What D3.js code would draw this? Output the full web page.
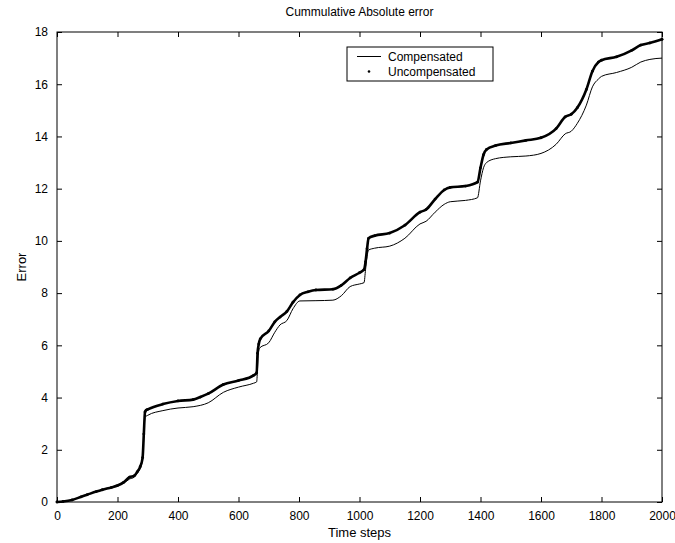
<!DOCTYPE html>
<html><head><meta charset="utf-8">
<script src="https://cdn.jsdelivr.net/npm/d3@7"></script>
<style>body{margin:0;background:#fff}text{font-family:"Liberation Sans",Arial,Helvetica,sans-serif}</style>
</head><body><svg id="c" width="675" height="543"></svg>
<script>
const title = "Cummulative Absolute error";
const xLabel = "Time steps";
const yLabel = "Error";
const seriesNames = ["Compensated", "Uncompensated"];
const xTicks = [0,200,400,600,800,1000,1200,1400,1600,1800,2000];
const yTicks = [0,2,4,6,8,10,12,14,16,18];

const uncompT = [0,20,50,80,100,130,150,180,200,220,240,255,265,275,283,287,291,295,300,350,400,450,474,500,550,600,650,660,663,667,672,700,720,737,760,780,803,830,856,912,940,969,1000,1015,1020,1025,1030,1050,1100,1150,1200,1220,1250,1280,1300,1350,1390,1400,1410,1420,1450,1500,1550,1600,1650,1680,1700,1720,1750,1770,1790,1800,1850,1900,1930,1960,2000];
const uncompV = [0,0.02,0.08,0.2,0.28,0.4,0.47,0.56,0.63,0.75,0.95,1.0,1.15,1.35,1.7,2.6,3.45,3.52,3.55,3.75,3.87,3.92,4.02,4.15,4.5,4.65,4.85,4.95,5.7,6.05,6.25,6.55,6.9,7.08,7.3,7.65,7.93,8.05,8.12,8.15,8.3,8.58,8.78,8.9,9.2,9.7,10.1,10.2,10.3,10.6,11.1,11.2,11.6,11.95,12.05,12.1,12.25,12.8,13.3,13.5,13.65,13.75,13.85,13.95,14.3,14.75,14.85,15.1,15.8,16.5,16.85,16.92,17.05,17.3,17.5,17.58,17.72];

const compT = [0,20,50,80,100,130,150,180,200,220,240,255,265,275,283,287,291,300,350,400,450,500,550,600,650,660,665,670,700,720,737,760,780,803,856,912,940,969,1000,1015,1020,1025,1030,1050,1100,1150,1200,1220,1250,1280,1300,1350,1390,1400,1410,1420,1450,1500,1550,1600,1650,1680,1700,1720,1750,1770,1790,1800,1850,1900,1930,1960,2000];
const compV = [0,0.02,0.08,0.2,0.28,0.4,0.47,0.56,0.63,0.72,0.88,0.95,1.1,1.3,1.6,2.5,3.25,3.32,3.5,3.6,3.65,3.8,4.2,4.4,4.55,4.6,5.6,5.9,6.1,6.5,6.78,6.95,7.4,7.7,7.71,7.73,7.9,8.25,8.35,8.4,8.9,9.4,9.65,9.72,9.8,10.1,10.65,10.75,11.1,11.4,11.5,11.55,11.65,12.3,12.8,13.0,13.15,13.22,13.25,13.35,13.7,14.1,14.2,14.5,15.2,15.9,16.2,16.3,16.45,16.65,16.85,16.95,17.0];

const svg = d3.select("#c");
const m = {l:57, r:662, t:32, b:502};
const x = d3.scaleLinear().domain([0,2000]).range([m.l,m.r]);
const y = d3.scaleLinear().domain([0,18]).range([m.b,m.t]);
const fs = 12;

// frame
svg.append("rect").attr("x",m.l).attr("y",m.t).attr("width",m.r-m.l).attr("height",m.b-m.t)
  .attr("fill","none").attr("stroke","#000").attr("stroke-width",1);

function styleAxis(g){
  g.select(".domain").remove();
  g.selectAll("line").attr("stroke","#000");
  g.selectAll("text").attr("font-size",fs).attr("fill","#000");
}
svg.append("g").attr("transform",`translate(0,${m.b})`)
  .call(d3.axisBottom(x).tickValues(xTicks).tickSize(-5).tickPadding(9).tickFormat(d3.format("d"))).call(styleAxis);
svg.append("g").attr("transform",`translate(0,${m.t})`)
  .call(d3.axisTop(x).tickValues(xTicks).tickSize(-5).tickFormat("")).call(styleAxis);
svg.append("g").attr("transform",`translate(${m.l},0)`)
  .call(d3.axisLeft(y).tickValues(yTicks).tickSize(-5).tickPadding(9).tickFormat(d3.format("d"))).call(styleAxis);
svg.append("g").attr("transform",`translate(${m.r},0)`)
  .call(d3.axisRight(y).tickValues(yTicks).tickSize(-5).tickFormat("")).call(styleAxis);

const comp = compT.map((t,i)=>[t,compV[i]]);
const unc = uncompT.map((t,i)=>[t,uncompV[i]]);
const line = d3.line().x(d=>x(d[0])).y(d=>y(d[1])).curve(d3.curveMonotoneX);

svg.append("path").datum(comp).attr("d",line).attr("fill","none").attr("stroke","#000").attr("stroke-width",1);
svg.append("path").datum(unc).attr("d",line).attr("fill","none").attr("stroke","#000").attr("stroke-width",2.6).attr("stroke-linecap","round");
svg.append("g").selectAll("circle").data(unc).join("circle")
  .attr("cx",d=>x(d[0])).attr("cy",d=>y(d[1])).attr("r",1.4).attr("fill","#000");

// labels
svg.append("text").attr("x",(m.l+m.r)/2).attr("y",16).attr("text-anchor","middle").attr("font-size",fs).text(title);
svg.append("text").attr("x",(m.l+m.r)/2).attr("y",537).attr("text-anchor","middle").attr("font-size",fs+1).text(xLabel);
svg.append("text").attr("transform",`translate(26,${(m.t+m.b)/2}) rotate(-90)`).attr("text-anchor","middle").attr("font-size",fs+1).text(yLabel);

// legend
const lg = svg.append("g");
lg.append("rect").attr("x",347).attr("y",47).attr("width",146).attr("height",34).attr("fill","#fff").attr("stroke","#000").attr("stroke-width",1);
lg.append("line").attr("x1",357).attr("x2",381).attr("y1",56.5).attr("y2",56.5).attr("stroke","#000").attr("stroke-width",1);
lg.append("circle").attr("cx",369).attr("cy",71.5).attr("r",1.3).attr("fill","#000");
lg.append("text").attr("x",388).attr("y",61).attr("font-size",fs).text(seriesNames[0]);
lg.append("text").attr("x",388).attr("y",76).attr("font-size",fs).text(seriesNames[1]);
</script></body></html>
